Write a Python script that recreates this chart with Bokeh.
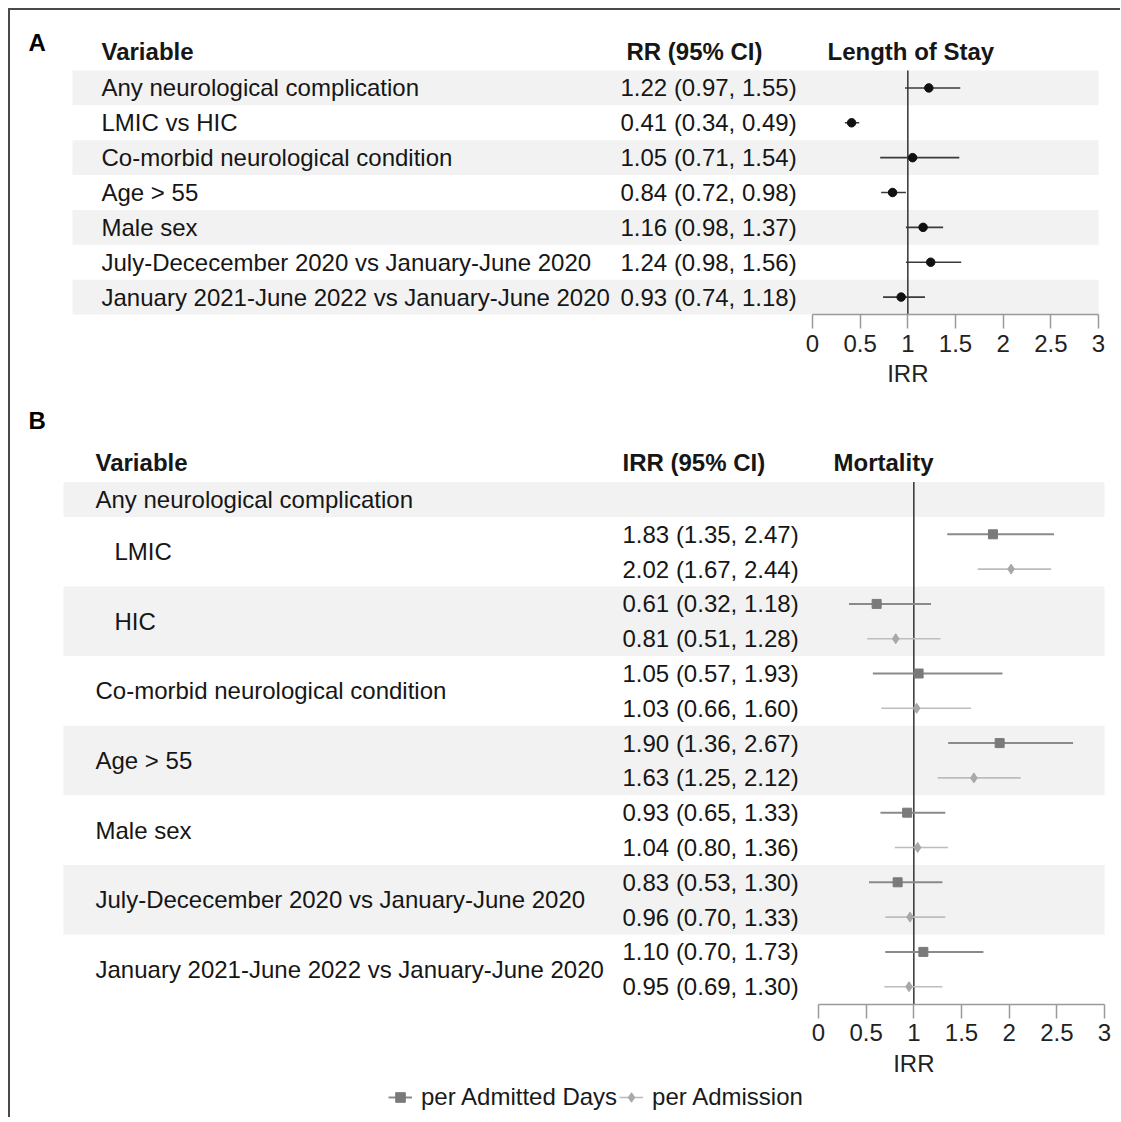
from bokeh.plotting import figure
from bokeh.models import (ColumnDataSource, Range1d, FixedTicker, CustomJSTickFormatter,
                          Legend, LegendItem, LinearAxis)
from bokeh.layouts import column
from bokeh.core.properties import value
from bokeh.embed import file_html
from bokeh.resources import INLINE

FONT = "Liberation Sans"

# ---------------- data: panel A (Length of Stay) ----------------
labels_a = ["Any neurological complication", "LMIC vs HIC", "Co-morbid neurological condition",
            "Age > 55", "Male sex", "July-Dececember 2020 vs January-June 2020",
            "January 2021-June 2022 vs January-June 2020"]
rr_a = [1.22, 0.41, 1.05, 0.84, 1.16, 1.24, 0.93]
lo_a = [0.97, 0.34, 0.71, 0.72, 0.98, 0.98, 0.74]
hi_a = [1.55, 0.49, 1.54, 0.98, 1.37, 1.56, 1.18]

# ---------------- data: panel B (Mortality) ----------------
header_b = "Any neurological complication"
groups_b = ["LMIC", "HIC", "Co-morbid neurological condition", "Age > 55", "Male sex",
            "July-Dececember 2020 vs January-June 2020", "January 2021-June 2022 vs January-June 2020"]
indent_b = [True, True, False, False, False, False, False]
days_est = [1.83, 0.61, 1.05, 1.90, 0.93, 0.83, 1.10]
days_lo = [1.35, 0.32, 0.57, 1.36, 0.65, 0.53, 0.70]
days_hi = [2.47, 1.18, 1.93, 2.67, 1.33, 1.30, 1.73]
adm_est = [2.02, 0.81, 1.03, 1.63, 1.04, 0.96, 0.95]
adm_lo = [1.67, 0.51, 0.66, 1.25, 0.80, 0.70, 0.69]
adm_hi = [2.44, 1.28, 1.60, 2.12, 1.36, 1.33, 1.30]

ticks = [0, 0.5, 1, 1.5, 2, 2.5, 3]
series_names = ["per Admitted Days", "per Admission"]


def fmt(e, l, h):
    return f"{e:.2f} ({l:.2f}, {h:.2f})"


# ---------------- layout geometry (page pixels) ----------------
W = 1110
HA = 395
HB = 712
OX, OY = 10, 10
U = (1098 - 812) / 3.0          # pixels per IRR unit

TXT = "#161616"
BAND = "#f2f2f2"


def add_text(p, xs, ys, texts, bold=False, color=TXT, size="24px", align="left"):
    src = ColumnDataSource(dict(x=xs, y=ys, t=texts))
    p.text(x="x", y="y", text="t", source=src, text_font=value(FONT), text_font_size=size,
           text_font_style="bold" if bold else "normal", text_color=color,
           text_align=align, text_baseline="middle")


def make_fig(h, xr, yr):
    p = figure(width=W, height=h, output_backend="svg", toolbar_location=None, title=None,
               x_range=xr, y_range=yr, x_axis_location=None, y_axis_location=None,
               min_border_left=0, min_border_right=0, min_border_top=0, min_border_bottom=0)
    p.grid.visible = False
    p.outline_line_color = None
    return p


def add_axis(p, yloc):
    ax = LinearAxis(fixed_location=yloc)
    ax.bounds = (ticks[0], ticks[-1])
    ax.ticker = FixedTicker(ticks=ticks)
    ax.formatter = CustomJSTickFormatter(code="return tick.toString();")
    ax.axis_line_color = "#9a9a9a"
    ax.axis_line_width = 1.5
    ax.major_tick_line_color = "#9a9a9a"
    ax.major_tick_line_width = 1.5
    ax.major_tick_in = 0
    ax.major_tick_out = 14
    ax.minor_tick_line_color = None
    ax.major_label_text_font = FONT
    ax.major_label_text_font_size = "24px"
    ax.major_label_text_color = "#222222"
    ax.major_label_standoff = 6
    p.add_layout(ax, "below")
    return ax


# ================= Panel A =================
A_X0 = 812
A_TOP = 70
A_ROWH = 34.86
A_BOT = 315


def ax_(px):
    return (px - A_X0) / U


def ay_(py):
    return (py - A_TOP) / A_ROWH + 0.5


pA = make_fig(HA, Range1d(ax_(OX), ax_(OX + W)), Range1d(ay_(OY + HA), ay_(OY)))

rows_a = list(range(1, len(labels_a) + 1))
band_rows_a = [r for r in rows_a if r % 2 == 1]
pA.quad(left=ax_(72), right=ticks[-1], top=[r - 0.5 for r in band_rows_a],
        bottom=[r + 0.5 for r in band_rows_a], fill_color=BAND, line_color=None)
pA.segment(x0=[1], y0=[0.5], x1=[1], y1=[len(labels_a) + 0.5], line_color="#333333", line_width=1.5)
pA.segment(x0=lo_a, y0=rows_a, x1=hi_a, y1=rows_a, line_color="#3a3a3a", line_width=1.6)
pA.scatter(x=rr_a, y=rows_a, marker="circle", size=8.5, fill_color="#111111", line_color="#111111")

add_text(pA, [ax_(28)], [ay_(42)], ["A"], bold=True, color="#000000")
add_text(pA, [ax_(101), ax_(626), ax_(827)], [ay_(51)] * 3,
         ["Variable", "RR (95% CI)", "Length of Stay"], bold=True)
add_text(pA, [ax_(101)] * len(labels_a), rows_a, labels_a)
add_text(pA, [ax_(620)] * len(labels_a), rows_a,
         [fmt(e, l, h) for e, l, h in zip(rr_a, lo_a, hi_a)])
add_axis(pA, len(labels_a) + 0.5)
add_text(pA, [1], [ay_(373)], ["IRR"], color="#222222", align="center")

# ================= Panel B =================
B_X0 = 818
B_C0 = 499
B_ROWH = 34.8
B_TOP = OY + HA


def bx(px):
    return (px - B_X0) / U


def by(py):
    return (py - B_C0) / B_ROWH


pB = make_fig(HB, Range1d(bx(OX), bx(OX + W)), Range1d(by(B_TOP + HB), by(B_TOP)))

n = len(groups_b)
days_rows = [2 * k + 1 for k in range(n)]
adm_rows = [2 * k + 2 for k in range(n)]
grey_groups = [k for k in range(n) if k % 2 == 1]
band_top = [-0.5] + [2 * k + 0.5 for k in grey_groups]
band_bot = [0.5] + [2 * k + 2.5 for k in grey_groups]
pB.quad(left=bx(63), right=ticks[-1], top=band_top, bottom=band_bot,
        fill_color=BAND, line_color=None)
pB.segment(x0=[1], y0=[-0.5], x1=[1], y1=[2 * n + 0.5], line_color="#333333", line_width=1.5)

seg_d = pB.segment(x0=days_lo, y0=days_rows, x1=days_hi, y1=days_rows,
                   line_color="#8a8a8a", line_width=2)
pt_d = pB.scatter(x=days_est, y=days_rows, marker="square", size=9,
                  fill_color="#7a7a7a", line_color="#7a7a7a")
seg_a = pB.segment(x0=adm_lo, y0=adm_rows, x1=adm_hi, y1=adm_rows,
                   line_color="#bdbdbd", line_width=1.6)
pt_a = pB.scatter(x=adm_est, y=adm_rows, marker="diamond", size=10,
                  fill_color="#a8a8a8", line_color="#a8a8a8")

add_text(pB, [bx(28)], [by(420)], ["B"], bold=True, color="#000000")
add_text(pB, [bx(95), bx(622), bx(833)], [by(462)] * 3,
         ["Variable", "IRR (95% CI)", "Mortality"], bold=True)
add_text(pB, [bx(95)], [0], [header_b])
add_text(pB, [bx(114) if ind else bx(95) for ind in indent_b],
         [2 * k + 1.5 for k in range(n)], groups_b)
add_text(pB, [bx(622)] * n, days_rows,
         [fmt(e, l, h) for e, l, h in zip(days_est, days_lo, days_hi)])
add_text(pB, [bx(622)] * n, adm_rows,
         [fmt(e, l, h) for e, l, h in zip(adm_est, adm_lo, adm_hi)])
add_axis(pB, 2 * n + 0.5)
add_text(pB, [1], [by(1063)], ["IRR"], color="#222222", align="center")

legend = Legend(items=[LegendItem(label=series_names[0], renderers=[seg_d, pt_d]),
                       LegendItem(label=series_names[1], renderers=[seg_a, pt_a])],
                orientation="horizontal", location=(378, 5),
                label_text_font=FONT, label_text_font_size="24px", label_text_color="#1a1a1a",
                glyph_width=24, glyph_height=30, label_standoff=9, spacing=2,
                padding=0, margin=0, border_line_color=None, background_fill_alpha=0)
pB.add_layout(legend, "center")

layout = column(pA, pB, margin=(8, 0, 0, 8),
                styles={"border-top": "2px solid #4a4a4a", "border-left": "2px solid #4a4a4a"})

open("out.html", "w").write(file_html(layout, INLINE))
